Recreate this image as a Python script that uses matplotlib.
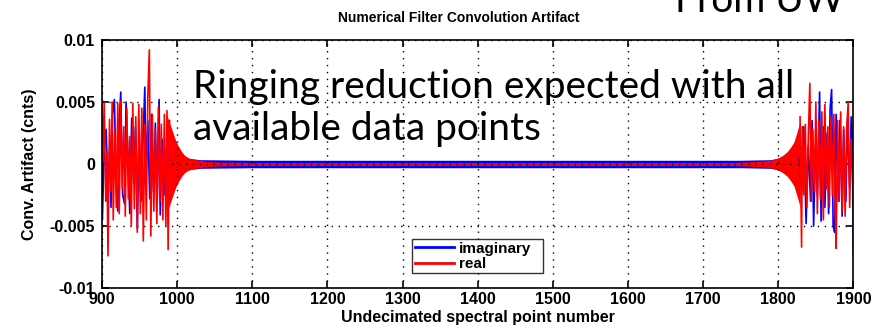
import numpy as np
import matplotlib
matplotlib.use('Agg')
import matplotlib.pyplot as plt

# ringing at the low end of the band (vertices of the traces)
imag_x_lo = [900, 900.5, 903, 905.5, 908, 910.5, 912, 914, 916.5, 919, 921, 923, 925, 927.5, 930,
             932, 934.5, 937, 939.5, 942, 944.5, 947, 949.5, 952, 954.5, 957, 958.5, 961, 963.5,
             966, 968.5, 971, 973.5, 976, 977.5, 980, 982.5, 985, 987.5, 990]
imag_y_lo = [0.0010, -0.0045, 0.0012, 0.0028, -0.0020, 0.0015, -0.0035, 0.0040, 0.0052, -0.0018,
             -0.0038, 0.0035, 0.0058, -0.0025, -0.0032, 0.0050, 0.0010, -0.0040, 0.0037, -0.0015,
             0.0030, -0.0052, 0.0025, -0.0030, 0.0018, 0.0062, -0.0010, 0.0035, -0.0028, 0.0040,
             -0.0022, 0.0033, -0.0030, 0.0052, -0.0041, 0.0020, -0.0025, 0.0012, -0.0008, 0.0004]

real_x_lo = [900, 901, 903, 905, 906.5, 908, 910, 912, 913.5, 915, 917, 919, 921, 923, 925, 927,
             929, 931, 933, 935, 937, 939, 941, 943, 945, 947, 949, 951, 953, 955, 957, 959, 961,
             963, 965, 967, 969, 971, 973, 975, 977, 979, 981, 983, 985, 986.5, 988, 990]
real_y_lo = [0.0051, 0.0002, 0.0049, -0.0030, 0.0010, -0.0074, 0.0036, -0.0022, 0.0050, -0.0045,
             0.0026, -0.0035, 0.0049, -0.0040, 0.0051, -0.0020, 0.0030, -0.0042, 0.0045, -0.0028,
             0.0022, -0.0050, 0.0049, -0.0036, 0.0038, -0.0055, 0.0048, -0.0040, 0.0045, -0.0062,
             0.0032, -0.0045, 0.0055, 0.0092, -0.0058, 0.0040, -0.0038, 0.0028, -0.0048, 0.0046,
             -0.0030, 0.0032, -0.0045, 0.0040, -0.0050, 0.0043, -0.0069, 0.0035]

# ringing at the high end of the band
imag_x_hi = [1828, 1831, 1834, 1837, 1840, 1843, 1845, 1847, 1850, 1852, 1855, 1857, 1860, 1862,
             1865, 1867, 1869, 1871, 1873, 1875, 1877, 1880, 1882, 1885, 1887, 1890, 1892, 1895,
             1897, 1899, 1900]
imag_y_hi = [0.0005, -0.0020, 0.0030, -0.0048, 0.0015, -0.0030, 0.0035, -0.0050, 0.0020, -0.0025,
             0.0058, -0.0046, 0.0030, -0.0035, 0.0025, -0.0040, 0.0045, 0.0060, -0.0050, -0.0055,
             0.0040, -0.0030, 0.0035, -0.0042, 0.0028, -0.0030, 0.0036, -0.0020, 0.0038, 0.0018,
             -0.0072]

real_x_hi = [1829, 1831, 1832, 1834, 1836, 1838, 1840, 1842, 1844, 1846, 1848, 1850, 1852, 1854,
             1856, 1858, 1860, 1862, 1864, 1866, 1868, 1870, 1872, 1874, 1876, 1877, 1879, 1881,
             1883, 1885, 1887, 1889, 1891, 1893, 1895, 1897, 1899, 1900]
real_y_hi = [0.0038, -0.0067, 0.0030, -0.0025, 0.0032, -0.0035, 0.0022, 0.0065, -0.0030, 0.0028,
             -0.0022, 0.0050, -0.0040, 0.0035, -0.0028, 0.0042, -0.0045, 0.0048, -0.0020, 0.0030,
             -0.0035, 0.0038, -0.0025, 0.0040, -0.0045, -0.0068, 0.0035, -0.0030, 0.0042, -0.0038,
             0.0030, -0.0042, 0.0028, 0.0050, -0.0035, 0.0020, -0.0015, 0.0004]

# envelope of the fast point-to-point oscillation in between
imag_env_x = [988, 1000, 1010, 1030, 1100, 1750, 1790, 1810, 1820, 1830]
imag_env = [0.0012, 0.0007, 0.0005, 0.00035, 0.0003, 0.0003, 0.00035, 0.0006, 0.0010, 0.0015]
real_env_x = [986, 990, 994, 998, 1002, 1006, 1010, 1015, 1020, 1030, 1040, 1060, 1100, 1740,
              1770, 1790, 1800, 1806, 1812, 1817, 1821, 1824, 1827, 1829]
real_env = [0.0040, 0.0033, 0.0026, 0.0019, 0.0014, 0.0010, 0.0007, 0.0005, 0.0004, 0.0003,
            0.0002, 0.00015, 0.00012, 0.00012, 0.0002, 0.0003, 0.0005, 0.0007, 0.0010, 0.0014,
            0.0018, 0.0024, 0.0030, 0.0035]

x_ticks = [900, 1000, 1100, 1200, 1300, 1400, 1500, 1600, 1700, 1800, 1900]
y_ticks = [-0.01, -0.005, 0, 0.005, 0.01]
y_labels = ['-0.01', '-0.005', '0', '0.005', '0.01']

plt.rcParams['font.family'] = ['Liberation Sans', 'DejaVu Sans']

fig = plt.figure(figsize=(8.83, 3.33), dpi=100)
ax = fig.add_axes([0.1155, 0.135, 0.851, 0.745])

blue = '#0000ff'
red = '#ff0000'

ie = np.array(imag_env)
ax.fill_between(imag_env_x, -ie, ie, color=blue, lw=0)
ax.plot(imag_x_lo, imag_y_lo, color=blue, lw=1.2, label='imaginary')
ax.plot(imag_x_hi, imag_y_hi, color=blue, lw=1.2)

re = np.array(real_env)
ax.fill_between(real_env_x, -re, re, color=red, lw=0)
ax.plot(real_x_lo, real_y_lo, color=red, lw=1.2, label='real')
ax.plot(real_x_hi, real_y_hi, color=red, lw=1.2)

ax.set_xlim(900, 1900)
ax.set_ylim(-0.01, 0.01)
ax.set_xticks(x_ticks)
ax.set_yticks(y_ticks)
ax.set_yticklabels(y_labels)
ax.tick_params(direction='in', top=True, right=True, length=5, width=1.2,
               labelsize=11.5, pad=3)
ax.tick_params(axis='y', pad=5)
for lab in ax.get_xticklabels() + ax.get_yticklabels():
    lab.set_fontweight('bold')
ax.grid(True, color='black', linestyle=(0, (1, 4)), lw=1)
for s in ax.spines.values():
    s.set_linewidth(1.2)

ax.set_xlabel('Undecimated spectral point number', fontsize=11.5, fontweight='bold', labelpad=2)
ax.set_ylabel('Conv. Artifact (cnts)', fontsize=11.5, fontweight='bold', labelpad=9)
fig.text(0.519, 0.945, 'Numerical Filter Convolution Artifact', ha='center', va='center',
         fontsize=10, fontweight='bold')

leg = ax.legend(loc='lower left', bbox_to_anchor=(0.403, 0.028, 0.194, 0.19), mode='expand',
                fontsize=11, frameon=True, fancybox=False, edgecolor='black',
                handlelength=2.6, handletextpad=0.3, borderpad=0.15, labelspacing=0.1)
leg.get_frame().set_linewidth(1)
for t in leg.get_texts():
    t.set_fontweight('bold')
for h in leg.get_lines():
    h.set_linewidth(2)

ax.text(0.121, 0.597, 'Ringing reduction expected with all\navailable data points',
        transform=ax.transAxes, ha='left', va='baseline', fontsize=28,
        family='Lato', linespacing=1.2)
fig.text(0.764, 0.963, 'From UW', ha='left', va='baseline', fontsize=28, family='Lato')

fig.savefig('out.png', dpi=100)
